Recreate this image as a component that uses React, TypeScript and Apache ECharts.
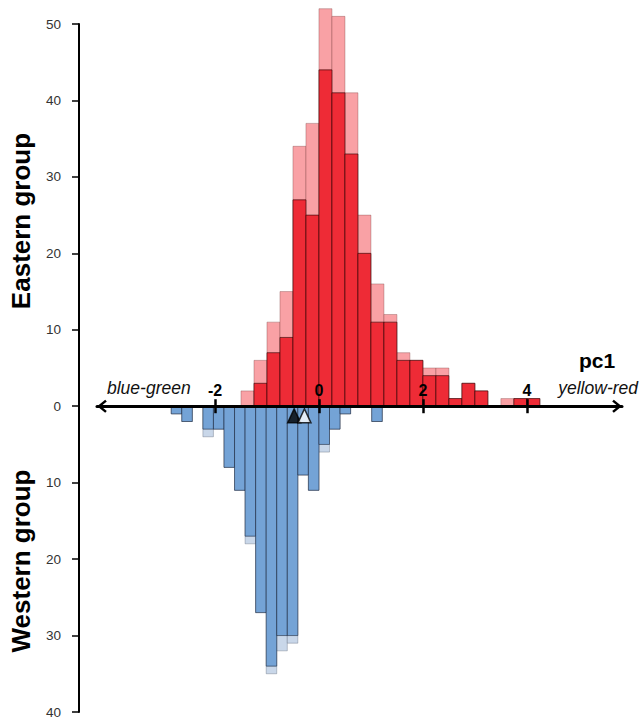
import React, { useEffect, useRef } from 'react';
import * as echarts from 'echarts';

// ---------- data ----------
// Eastern group histogram (bin width 0.25)
const EAST_BIN = 0.25;
const eastBinStarts = [
  -1.5, -1.25, -1.0, -0.75, -0.5, -0.25, 0.0, 0.25, 0.5, 0.75, 1.0, 1.25,
  1.5, 1.75, 2.0, 2.25, 2.5, 2.75, 3.0, 3.25, 3.5, 3.75, 4.0,
];
const eastTotal = [2, 6, 11, 15, 34, 37, 52, 51, 41, 25, 16, 12, 7, 6, 5, 5, 1, 3, 2, 0, 1, 1, 1];
const eastSubset = [0, 3, 7, 9, 27, 25, 44, 41, 33, 20, 11, 11, 6, 6, 4, 4, 1, 3, 2, 0, 0, 1, 1];

// Western group histogram (bin width ~0.203), drawn downward
const WEST_BIN = 0.203;
const westBinStarts = [
  -2.842, -2.639, -2.436, -2.233, -2.03, -1.827, -1.624, -1.421, -1.218, -1.015,
  -0.812, -0.609, -0.406, -0.203, 0.0, 0.203, 0.406, 0.609, 0.812, 1.015,
];
const westTotal = [1, 2, 0, 4, 3, 8, 11, 18, 27, 35, 32, 31, 9, 11, 6, 3, 1, 0, 0, 2];
const westSubset = [1, 2, 0, 3, 3, 8, 11, 17, 27, 34, 30, 30, 9, 11, 5, 3, 1, 0, 0, 2];

// group means (markers below the axis)
const meanMarkers = [
  { name: 'mean A', x: -0.477, y: -1.25, fill: '#000000' },
  { name: 'mean B', x: -0.279, y: -1.25, fill: '#ffffff' },
];

const xTickValues = [-2, 0, 2, 4];
const X_MIN = -4.27;
const X_MAX = 5.83;
const Y_MIN = -40;
const Y_MAX = 50;

// ---------- styling ----------
const FONT = "'Liberation Sans', Arial, Helvetica, sans-serif";
const CHEVRON = 'path://M65 0 L130 80 L112 96 L65 38 L18 96 L0 80 Z';
const W = 640;
const H = 722;

function histData(starts: number[], width: number, values: number[], sign: number) {
  return starts.map((s, i) => [s, s + width, sign * values[i]]);
}

function histSeries(data: number[][], fill: string, stroke: string, z: number) {
  return {
    type: 'custom',
    coordinateSystem: 'cartesian2d',
    xAxisIndex: 0,
    yAxisIndex: 0,
    clip: false,
    z,
    encode: { x: [0, 1], y: 2 },
    data,
    renderItem: (params: any, api: any) => {
      const v = api.value(2);
      if (!v) return null;
      const p0 = api.coord([api.value(0), 0]);
      const p1 = api.coord([api.value(1), v]);
      return {
        type: 'rect',
        shape: {
          x: p0[0],
          y: Math.min(p0[1], p1[1]),
          width: p1[0] - p0[0],
          height: Math.abs(p1[1] - p0[1]),
        },
        style: { fill, stroke, lineWidth: 1 },
      };
    },
  };
}

export default function App() {
  const ref = useRef<HTMLDivElement>(null);

  useEffect(() => {
    if (!ref.current) return;
    const chart = echarts.init(ref.current, undefined, { renderer: 'svg' });

    const gridBox = { left: 97, right: 18, top: 24, bottom: 10 };
    // grid whose bottom edge sits on the zero line (hosts the x tick labels)
    const plotH = H - gridBox.top - gridBox.bottom;
    const zeroY = gridBox.top + (plotH * Y_MAX) / (Y_MAX - Y_MIN);
    const upperGrid = { left: gridBox.left, right: gridBox.right, top: gridBox.top, bottom: H - zeroY };

    const option: any = {
      animation: false,
      grid: [
        { ...gridBox, containLabel: false },
        { ...gridBox, containLabel: false },
        { ...upperGrid, containLabel: false },
      ],
      xAxis: [
        {
          type: 'value',
          gridIndex: 0,
          min: X_MIN,
          max: X_MAX,
          position: 'bottom',
          z: 5,
          axisLine: {
            show: true,
            onZero: true,
            lineStyle: { color: '#000', width: 3 },
            symbol: [CHEVRON, CHEVRON],
            symbolSize: [13, 10],
            symbolOffset: [5, -5],
          },
          axisTick: {
            show: true,
            inside: true,
            length: 7,
            lineStyle: { color: '#000', width: 2.5 },
            customValues: xTickValues,
          },
          axisLabel: { show: false },
          splitLine: { show: false },
        },
        {
          type: 'value',
          gridIndex: 1,
          min: X_MIN,
          max: X_MAX,
          position: 'bottom',
          z: 5,
          axisLine: { show: true, onZero: true, lineStyle: { color: '#000', width: 0, opacity: 0 } },
          axisTick: {
            show: true,
            inside: false,
            length: 7,
            lineStyle: { color: '#000', width: 2.5 },
            customValues: xTickValues,
          },
          axisLabel: { show: false },
          splitLine: { show: false },
        },
        {
          type: 'value',
          gridIndex: 2,
          min: X_MIN,
          max: X_MAX,
          position: 'bottom',
          z: 5,
          axisLine: { show: false, onZero: false },
          axisTick: { show: false },
          axisLabel: {
            show: true,
            inside: true,
            margin: 8,
            customValues: xTickValues,
            fontWeight: 'bold',
            fontSize: 16,
            fontFamily: FONT,
            color: '#000',
          },
          splitLine: { show: false },
        },
      ],
      yAxis: [
        {
          type: 'value',
          gridIndex: 0,
          min: Y_MIN,
          max: Y_MAX,
          interval: 10,
          position: 'left',
          offset: 18,
          axisLine: { show: true, onZero: false, lineStyle: { color: '#000', width: 2 } },
          axisTick: { show: true, length: 7, lineStyle: { color: '#000', width: 1.5 } },
          axisLabel: {
            margin: 18,
            fontSize: 13.5,
            fontFamily: FONT,
            color: '#333',
            formatter: (v: number) => String(Math.abs(v)),
          },
          splitLine: { show: false },
        },
        {
          type: 'value',
          gridIndex: 1,
          min: Y_MIN,
          max: Y_MAX,
          interval: 10,
          show: false,
          axisLine: { onZero: false },
          splitLine: { show: false },
        },
        {
          type: 'value',
          gridIndex: 2,
          min: 0,
          max: Y_MAX,
          show: false,
          axisLine: { onZero: false },
          splitLine: { show: false },
        },
      ],
      series: [
        histSeries(histData(eastBinStarts, EAST_BIN, eastTotal, 1), '#F9A1A5', 'rgba(120,60,60,0.35)', 2),
        histSeries(histData(eastBinStarts, EAST_BIN, eastSubset, 1), '#EE2B36', 'rgba(40,0,0,0.6)', 3),
        histSeries(histData(westBinStarts, WEST_BIN, westTotal, -1), '#C9D7E9', 'rgba(60,70,90,0.3)', 2),
        histSeries(histData(westBinStarts, WEST_BIN, westSubset, -1), '#74A3D6', 'rgba(20,30,50,0.55)', 3),
        {
          type: 'scatter',
          xAxisIndex: 0,
          yAxisIndex: 0,
          z: 10,
          symbol: 'triangle',
          symbolSize: [13, 14],
          data: meanMarkers.map((m) => ({
            name: m.name,
            value: [m.x, m.y],
            itemStyle: { color: m.fill, borderColor: '#000', borderWidth: 1.5 },
          })),
        },
      ],
      graphic: [
        {
          type: 'text',
          x: 21,
          y: 221,
          rotation: Math.PI / 2,
          style: {
            text: 'Eastern group',
            fontSize: 26,
            fontWeight: 'bold',
            fontFamily: FONT,
            fill: '#000',
            align: 'center',
            verticalAlign: 'middle',
          },
        },
        {
          type: 'text',
          x: 21,
          y: 561,
          rotation: Math.PI / 2,
          style: {
            text: 'Western group',
            fontSize: 26,
            fontWeight: 'bold',
            fontFamily: FONT,
            fill: '#000',
            align: 'center',
            verticalAlign: 'middle',
          },
        },
        {
          type: 'text',
          x: 597,
          y: 360,
          style: {
            text: 'pc1',
            fontSize: 21,
            fontWeight: 'bold',
            fontFamily: FONT,
            fill: '#000',
            align: 'center',
            verticalAlign: 'middle',
          },
        },
        {
          type: 'text',
          x: 107,
          y: 388,
          style: {
            text: 'blue-green',
            fontSize: 17.5,
            fontStyle: 'italic',
            fontFamily: FONT,
            fill: '#111',
            align: 'left',
            verticalAlign: 'middle',
          },
        },
        {
          type: 'text',
          x: 638,
          y: 388,
          style: {
            text: 'yellow-red',
            fontSize: 17.5,
            fontStyle: 'italic',
            fontFamily: FONT,
            fill: '#111',
            align: 'right',
            verticalAlign: 'middle',
          },
        },
      ],
    };

    chart.setOption(option);
    return () => chart.dispose();
  }, []);

  return (
    <div
      ref={ref}
      style={{ position: 'fixed', left: 0, top: 0, width: W, height: H, background: '#fff' }}
    />
  );
}
